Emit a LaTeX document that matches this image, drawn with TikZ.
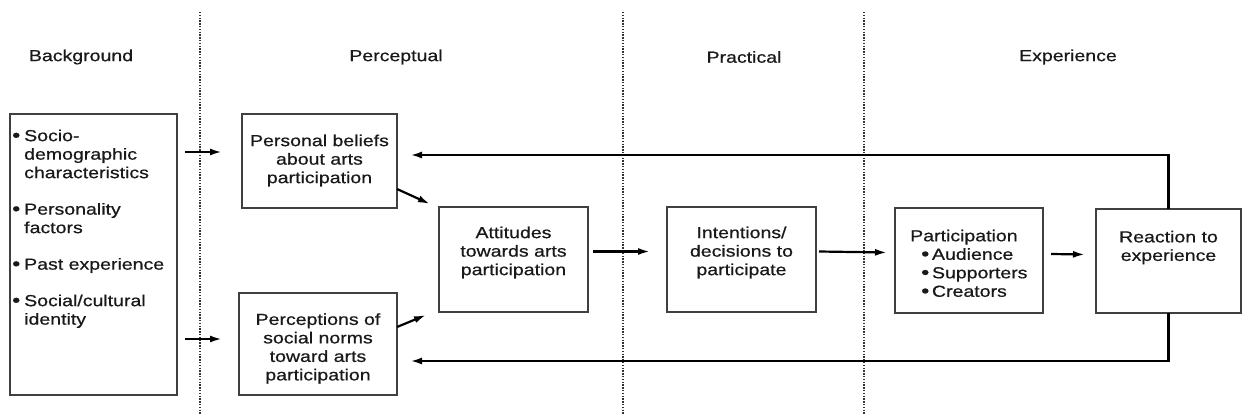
\documentclass[tikz,border=0pt]{standalone}
\usepackage{fontspec}
\setmainfont{Liberation Sans}[FakeStretch=1.22,FakeBold=0.6]
\usetikzlibrary{arrows.meta,calc}
\newcommand\itemdot{{\fontsize{19}{19}\selectfont\raisebox{-0.5pt}{•}}}
\begin{document}
\begin{tikzpicture}[x=1pt,y=-1pt,
  every node/.style={font=\fontsize{16}{18.5}\selectfont, text=black!90},
  box/.style={draw=black!75, line width=1.4pt, fill=white, inner sep=0pt, outer sep=0pt},
  txt/.style={align=center, inner sep=0pt},
  arr/.style={draw=black, line width=2.2pt, -{Latex[length=12pt,width=7pt]}},
  loop/.style={draw=black, line width=2.6pt, -{Latex[length=12pt,width=7pt]}},
  sep/.style={draw=black!80, line width=1.3pt, dash pattern=on 1.3pt off 1.5pt}]
\useasboundingbox (0,0) rectangle (1243,415);

% phase separators
\draw[sep] (200,12) -- (200,415);
\draw[sep] (623,12) -- (623,415);
\draw[sep] (864,12) -- (864,415);

% phase headings
\node[txt] (hBack) at (81,57) {Background};
\node[txt] (hPerc) at (396,57) {Perceptual};
\node[txt] (hPrac) at (744,57) {Practical};
\node[txt] (hExp)  at (1068,57) {Experience};

% boxes
\node[box, minimum width=167pt, minimum height=281pt] (bg)   at (93.5,254.5) {};
\node[box, minimum width=155pt, minimum height=94pt]  (pb)   at (319.5,161) {};
\node[box, minimum width=158pt, minimum height=102pt] (pc)   at (318,344) {};
\node[box, minimum width=149pt, minimum height=105pt] (att)  at (513.5,259.5) {};
\node[box, minimum width=149pt, minimum height=105pt] (int)  at (741.5,259.5) {};
\node[box, minimum width=148pt, minimum height=105pt] (part) at (969,260.5) {};
\node[box, minimum width=145pt, minimum height=104pt] (re)   at (1168.5,261) {};

% box texts
\node[inner sep=0pt, anchor=north west] (bgT) at (12,128) {%
  \begin{tabular}{@{}l@{}l@{}}
  \makebox[12pt][l]{\itemdot} & Socio-\\
           & demographic\\
           & characteristics\\[18pt]
  \itemdot & Personality\\
           & factors\\[18pt]
  \itemdot & Past experience\\[18pt]
  \itemdot & Social/cultural\\
           & identity
  \end{tabular}};
\node[txt] (pbT)  at (319.5,160.5) {Personal beliefs\\about arts\\participation};
\node[txt] (pcT)  at (318,348.5) {Perceptions of\\social norms\\toward arts\\participation};
\node[txt] (attT) at (513.5,252.5) {Attitudes\\towards arts\\participation};
\node[txt] (intT) at (741.5,252.5) {Intentions/\\decisions to\\participate};
\node[txt, align=left, anchor=west] (partT) at (910,263.5) {Participation\\
  \hspace*{11pt}\itemdot\,Audience\\
  \hspace*{11pt}\itemdot\,Supporters\\
  \hspace*{11pt}\itemdot\,Creators};
\node[txt] (reT)  at (1168.5,247.5) {Reaction to\\experience};

% forward connectors
\draw[arr] ([xshift=8pt,yshift=102.5pt]bg.east) -- ([xshift=-20pt,yshift=9pt]pb.west);
\draw[arr] ([xshift=8pt,yshift=-84.5pt]bg.east) -- ([xshift=-17pt,yshift=5pt]pc.west);
\draw[arr] ($(pb.south east)+(0,-19)$) -- ($(att.north west)+(-9,-3)$);
\draw[arr] ($(pc.north east)+(0,34)$) -- ($(att.south west)+(-13,3)$);
\draw[arr] ([xshift=5pt,yshift=8pt]att.east) -- ([xshift=-17pt,yshift=8pt]int.west);
\draw[arr] ([xshift=3pt,yshift=8pt]int.east) -- ([xshift=-8pt,yshift=8pt]part.west);
\draw[arr] ([xshift=8pt,yshift=6.5pt]part.east) -- ([xshift=-11pt,yshift=6.5pt]re.west);

% feedback loops
\draw[loop] (re.north) |- ([xshift=13pt,yshift=6pt]pb.east);
\draw[loop] (re.south) |- ([xshift=13pt,yshift=-17pt]pc.east);
\end{tikzpicture}
\end{document}
